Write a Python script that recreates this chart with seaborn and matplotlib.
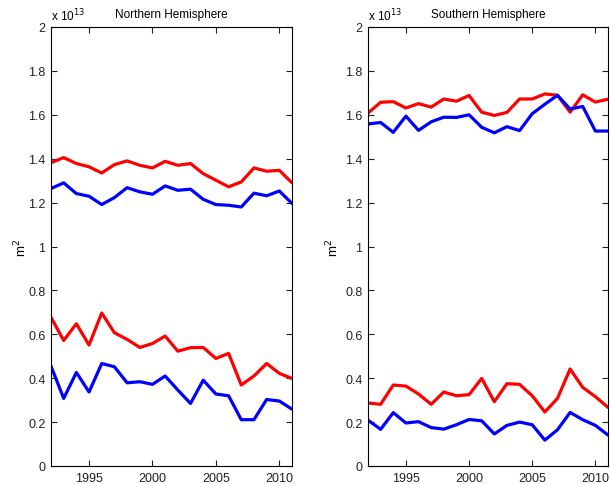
import matplotlib
matplotlib.use("Agg")
import matplotlib.pyplot as plt
import seaborn as sns
import pandas as pd
from matplotlib.ticker import FuncFormatter

years = list(range(1992, 2012))

# values in units of 1e13 m^2
nh_red_upper = [1.382, 1.405, 1.378, 1.363, 1.335, 1.373, 1.390, 1.370, 1.358, 1.388,
                1.370, 1.378, 1.332, 1.302, 1.272, 1.294, 1.358, 1.343, 1.347, 1.290]
nh_blue_upper = [1.264, 1.290, 1.241, 1.229, 1.191, 1.223, 1.268, 1.249, 1.238, 1.276,
                 1.256, 1.261, 1.215, 1.191, 1.188, 1.180, 1.243, 1.231, 1.253, 1.196]
nh_red_lower = [0.677, 0.572, 0.648, 0.551, 0.697, 0.607, 0.577, 0.540, 0.558, 0.592,
                0.523, 0.539, 0.540, 0.490, 0.513, 0.369, 0.410, 0.467, 0.422, 0.399]
nh_blue_lower = [0.455, 0.308, 0.426, 0.337, 0.467, 0.452, 0.379, 0.384, 0.372, 0.410,
                 0.346, 0.285, 0.391, 0.328, 0.320, 0.211, 0.211, 0.303, 0.296, 0.259]

sh_red_upper = [1.608, 1.657, 1.660, 1.631, 1.651, 1.635, 1.672, 1.662, 1.688, 1.612,
                1.597, 1.611, 1.672, 1.672, 1.695, 1.689, 1.612, 1.691, 1.658, 1.671]
sh_blue_upper = [1.558, 1.565, 1.520, 1.594, 1.529, 1.568, 1.589, 1.588, 1.600, 1.543,
                 1.518, 1.546, 1.528, 1.605, 1.648, 1.689, 1.626, 1.638, 1.526, 1.526]
sh_red_lower = [0.287, 0.281, 0.369, 0.364, 0.328, 0.281, 0.337, 0.320, 0.325, 0.399,
                0.293, 0.375, 0.372, 0.320, 0.246, 0.308, 0.442, 0.358, 0.316, 0.267]
sh_blue_lower = [0.209, 0.167, 0.243, 0.196, 0.202, 0.175, 0.168, 0.188, 0.212, 0.206,
                 0.146, 0.185, 0.200, 0.188, 0.118, 0.165, 0.244, 0.211, 0.185, 0.141]

titles = ["Northern Hemisphere", "Southern Hemisphere"]
xticks = [1995, 2000, 2005, 2010]
yticks = [0, 0.2, 0.4, 0.6, 0.8, 1.0, 1.2, 1.4, 1.6, 1.8, 2.0]

sns.set_style("ticks")
plt.rcParams["font.family"] = ["Liberation Sans", "DejaVu Sans"]
plt.rcParams["xtick.direction"] = "in"
plt.rcParams["ytick.direction"] = "in"
plt.rcParams["axes.edgecolor"] = "black"
plt.rcParams["xtick.color"] = "black"
plt.rcParams["ytick.color"] = "black"
plt.rcParams["text.color"] = "black"
plt.rcParams["axes.labelcolor"] = "black"

fig = plt.figure(figsize=(6.1, 4.85), dpi=100)
ax1 = fig.add_axes([51 / 610, 18 / 485, 241 / 610, 439 / 485])
ax2 = fig.add_axes([368 / 610, 18 / 485, 240 / 610, 439 / 485])

panels = [
    (ax1, [nh_red_upper, nh_blue_upper, nh_red_lower, nh_blue_lower], -0.09),
    (ax2, [sh_red_upper, sh_blue_upper, sh_red_lower, sh_blue_lower], -0.11),
]
colors = ["#ff0000", "#0000ff", "#ff0000", "#0000ff"]

fmt = FuncFormatter(lambda v, p: "%g" % round(v, 2))

for (ax, series, lab_x), title in zip(panels, titles):
    for s, c in zip(series, colors):
        df = pd.DataFrame({"year": years, "area": s})
        sns.lineplot(data=df, x="year", y="area", ax=ax, color=c, linewidth=2.3)
    ax.set_xlim(1992, 2011)
    ax.set_ylim(0, 2)
    ax.set_xticks(xticks)
    ax.set_yticks(yticks)
    ax.yaxis.set_major_formatter(fmt)
    ax.tick_params(axis="both", which="both", direction="in", length=4, width=0.8,
                   labelsize=9, top=True, right=True, pad=4, colors="#222222")
    for sp in ax.spines.values():
        sp.set_visible(True)
        sp.set_linewidth(0.8)
        sp.set_color("black")
    ax.set_xlabel("")
    ax.set_ylabel("m$^2$", fontsize=9.5)
    ax.yaxis.set_label_coords(lab_x, 0.5)
    ax.set_title(title, fontsize=8.5, pad=7)
    ax.text(0.0, 1.008, r"x 10$^{13}$", transform=ax.transAxes, fontsize=8.5,
            ha="left", va="bottom")

fig.savefig("out.png", dpi=100)
